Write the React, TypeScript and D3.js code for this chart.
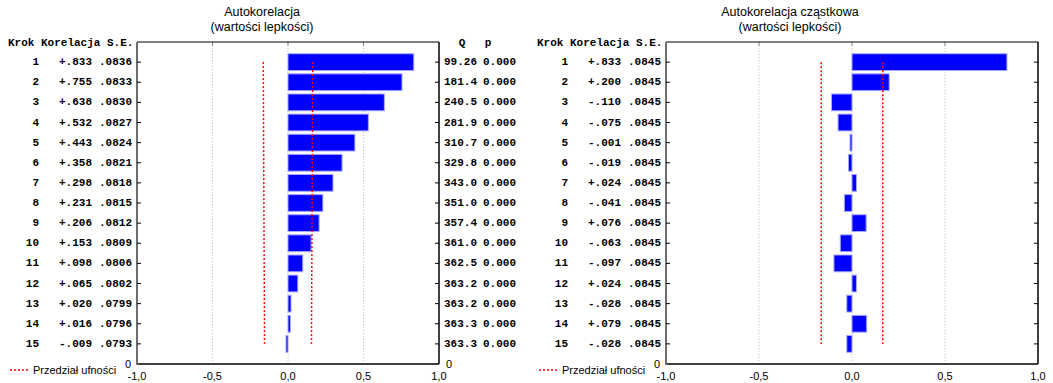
import React, { useRef, useEffect } from "react";
import * as d3 from "d3";

const lags = [1, 2, 3, 4, 5, 6, 7, 8, 9, 10, 11, 12, 13, 14, 15];
const acf = [0.833, 0.755, 0.638, 0.532, 0.443, 0.358, 0.298, 0.231, 0.206, 0.153, 0.098, 0.065, 0.02, 0.016, -0.009];
const acfSE = [0.0836, 0.0833, 0.083, 0.0827, 0.0824, 0.0821, 0.0818, 0.0815, 0.0812, 0.0809, 0.0806, 0.0802, 0.0799, 0.0796, 0.0793];
const qStat = [99.26, 181.4, 240.5, 281.9, 310.7, 329.8, 343.0, 351.0, 357.4, 361.0, 362.5, 363.2, 363.2, 363.3, 363.3];
const pVal = [0, 0, 0, 0, 0, 0, 0, 0, 0, 0, 0, 0, 0, 0, 0];
const pacf = [0.833, 0.2, -0.11, -0.075, -0.001, -0.019, 0.024, -0.041, 0.076, -0.063, -0.097, 0.024, -0.028, 0.079, -0.028];
const pacfSE = [0.0845, 0.0845, 0.0845, 0.0845, 0.0845, 0.0845, 0.0845, 0.0845, 0.0845, 0.0845, 0.0845, 0.0845, 0.0845, 0.0845, 0.0845];
const xTicks = [-1, -0.5, 0, 0.5, 1];
const gridTicks = [-0.5, 0, 0.5];
const legendLabel = "Przedział ufności";

const mono = "'Liberation Mono', 'Courier New', monospace";
const sans = "'Liberation Sans', Arial, sans-serif";

const fmtCorr = (v: number) => (v < 0 ? "-" : "+") + Math.abs(v).toFixed(3).replace(/^0/, "");
const fmtSE = (v: number) => v.toFixed(4).replace(/^0/, "");
const fmtQ = (v: number) => (v < 100 ? v.toFixed(2) : v.toFixed(1));
const fmtTick = (v: number) => v.toFixed(1).replace(".", ",");

const App = () => {
  const ref = useRef<HTMLDivElement>(null);

  useEffect(() => {
    document.body.style.margin = "0";
    d3.select(ref.current).select("svg").remove();

    const svg = d3
      .select(ref.current)
      .append("svg")
      .attr("width", 1053)
      .attr("height", 383)
      .style("display", "block")
      .style("background", "#fff");

    const top = 42;
    const bottom = 364;

    const panels = [
      {
        title: ["Autokorelacja", "(wartości lepkości)"],
        values: acf,
        se: acfSE,
        ox: 0,
        x0: 137,
        x1: 439,
        center: 262,
        q: true,
      },
      {
        title: ["Autokorelacja cząstkowa", "(wartości lepkości)"],
        values: pacf,
        se: pacfSE,
        ox: 529,
        x0: 666,
        x1: 1038,
        center: 790,
        q: false,
      },
    ];

    panels.forEach((p) => {
      const g = svg.append("g");
      const x = d3.scaleLinear().domain([-1, 1]).range([p.x0, p.x1]);
      const y = d3.scaleLinear().domain([0, 16]).range([top, bottom]);

      // titles
      g.selectAll(".title")
        .data(p.title)
        .enter()
        .append("text")
        .attr("x", p.center)
        .attr("y", (d, i) => 16 + i * 15)
        .attr("text-anchor", "middle")
        .attr("font-family", sans)
        .attr("font-size", 12.5)
        .attr("fill", "#000")
        .text((d) => d);

      // gridlines
      g.selectAll(".grid")
        .data(gridTicks)
        .enter()
        .append("line")
        .attr("x1", (d) => x(d))
        .attr("x2", (d) => x(d))
        .attr("y1", top)
        .attr("y2", bottom)
        .attr("stroke", "#bdbdbd")
        .attr("stroke-dasharray", "1,2");

      g.selectAll(".ttick")
        .data(gridTicks)
        .enter()
        .append("line")
        .attr("x1", (d) => x(d))
        .attr("x2", (d) => x(d))
        .attr("y1", top)
        .attr("y2", top + 4)
        .attr("stroke", "#888");

      // bars
      g.selectAll(".bar")
        .data(p.values)
        .enter()
        .append("rect")
        .attr("x", (d) => (d < 0 ? Math.min(x(d), x(0) - 2) : x(0)))
        .attr("width", (d) => Math.max(2, Math.abs(x(d) - x(0))))
        .attr("y", (d, i) => y(lags[i]) - 8.4)
        .attr("height", 16.8)
        .attr("fill", "#0000ff")
        .attr("stroke", "#a8a8ff")
        .attr("stroke-width", 1);

      // confidence limits
      const lim = (sign: number) =>
        d3
          .line<number>()
          .x((d) => x(sign * 1.96 * d))
          .y((d, i) => y(lags[i]))(p.se);
      [-1, 1].forEach((s) => {
        g.append("path")
          .attr("d", lim(s))
          .attr("fill", "none")
          .attr("stroke", "#ff0000")
          .attr("stroke-width", 1.5)
          .attr("stroke-dasharray", "2,2");
      });

      // frame
      g.append("line").attr("x1", p.x0).attr("x2", p.x1).attr("y1", top).attr("y2", top).attr("stroke", "#000");
      g.append("line").attr("x1", p.x1).attr("x2", p.x1).attr("y1", top).attr("y2", bottom).attr("stroke", "#000").attr("stroke-width", 1.5);
      g.append("line").attr("x1", p.x0).attr("x2", p.x1).attr("y1", bottom).attr("y2", bottom).attr("stroke", "#000").attr("stroke-width", 1.5);
      g.append("line").attr("x1", p.x0).attr("x2", p.x0).attr("y1", top).attr("y2", bottom + 1).attr("stroke", "#6e6e6e").attr("stroke-width", 2);

      // row ticks
      g.selectAll(".ltick")
        .data(lags)
        .enter()
        .append("line")
        .attr("x1", p.x0)
        .attr("x2", p.x0 + 4)
        .attr("y1", (d) => y(d))
        .attr("y2", (d) => y(d))
        .attr("stroke", "#000");
      g.selectAll(".rtick")
        .data(lags)
        .enter()
        .append("line")
        .attr("x1", p.x1 - 4)
        .attr("x2", p.x1)
        .attr("y1", (d) => y(d))
        .attr("y2", (d) => y(d))
        .attr("stroke", "#000");

      // x axis labels
      g.selectAll(".xl")
        .data(xTicks)
        .enter()
        .append("text")
        .attr("x", (d) => x(d))
        .attr("y", 380)
        .attr("text-anchor", "middle")
        .attr("font-family", sans)
        .attr("font-size", 11)
        .text((d) => fmtTick(d));

      // table text
      const txt = (sel: any) =>
        sel
          .attr("font-family", mono)
          .attr("font-weight", "bold")
          .attr("font-size", 11)
          .attr("fill", "#000")
          .attr("dominant-baseline", "central");

      txt(g.append("text"))
        .attr("x", p.ox + 8)
        .attr("y", top + 1)
        .attr("xml:space", "preserve")
        .text("Krok Korelacja S.E.");

      const cols = [
        { dx: 39, f: (i: number) => String(lags[i]) },
        { dx: 92, f: (i: number) => fmtCorr(p.values[i]) },
        { dx: 132, f: (i: number) => fmtSE(p.se[i]) },
      ];
      cols.forEach((c) => {
        txt(g.selectAll(null).data(lags).enter().append("text"))
          .attr("x", p.ox + c.dx)
          .attr("y", (d: number) => y(d))
          .attr("text-anchor", "end")
          .text((d: number, i: number) => c.f(i));
      });

      g.append("text")
        .attr("x", p.x0 - 6)
        .attr("y", y(16))
        .attr("text-anchor", "end")
        .attr("dominant-baseline", "central")
        .attr("font-family", sans)
        .attr("font-size", 11)
        .text("0");

      if (p.q) {
        txt(g.append("text")).attr("x", p.x1 + 23).attr("y", top + 1).attr("text-anchor", "middle").text("Q");
        txt(g.append("text")).attr("x", p.x1 + 49).attr("y", top + 1).attr("text-anchor", "middle").text("p");
        txt(g.selectAll(null).data(lags).enter().append("text"))
          .attr("x", p.x1 + 38)
          .attr("y", (d: number) => y(d))
          .attr("text-anchor", "end")
          .text((d: number, i: number) => fmtQ(qStat[i]));
        txt(g.selectAll(null).data(lags).enter().append("text"))
          .attr("x", p.x1 + 77)
          .attr("y", (d: number) => y(d))
          .attr("text-anchor", "end")
          .text((d: number, i: number) => pVal[i].toFixed(3));
        g.append("text")
          .attr("x", p.x1 + 7)
          .attr("y", y(16))
          .attr("dominant-baseline", "central")
          .attr("font-family", sans)
          .attr("font-size", 11)
          .text("0");
      }

      // legend
      g.append("line")
        .attr("x1", p.ox + 10)
        .attr("x2", p.ox + 28)
        .attr("y1", 370)
        .attr("y2", 370)
        .attr("stroke", "#ff0000")
        .attr("stroke-width", 1.5)
        .attr("stroke-dasharray", "2,2");
      g.append("text")
        .attr("x", p.ox + 33)
        .attr("y", 370)
        .attr("dominant-baseline", "central")
        .attr("font-family", sans)
        .attr("font-size", 11)
        .text(legendLabel);
    });
  }, []);

  return <div ref={ref}></div>;
};

export default App;
